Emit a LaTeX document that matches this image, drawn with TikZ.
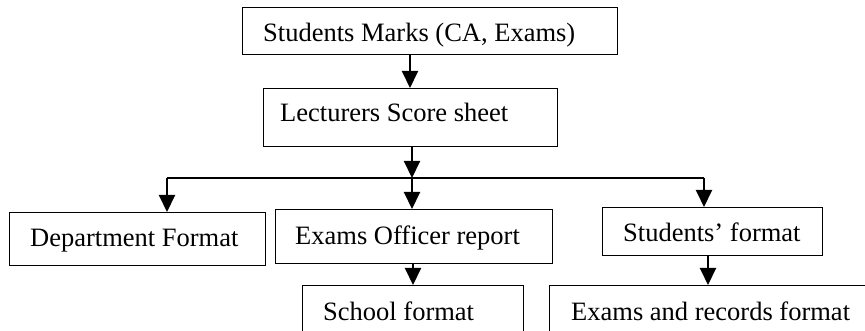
\documentclass[tikz,border=0pt]{standalone}
\usepackage{fontspec}
\setmainfont{Liberation Serif}
\usetikzlibrary{arrows.meta}
\begin{document}
\begin{tikzpicture}[x=1pt,y=-1pt,
  box/.style={draw=black, line width=1.3pt, rectangle, inner sep=0pt, anchor=north west},
  lbl/.style={inner sep=0pt, anchor=base west, font=\fontsize{26.5}{30}\selectfont},
  arr/.style={line width=2pt, -{Triangle[width=16pt,length=17pt]}},
  wire/.style={line width=2pt}]
\clip (0,0) rectangle (865,331);
\fill[white] (0,0) rectangle (865,331);

% boxes
\node[box, minimum width=375pt, minimum height=47pt] (marks) at (242,7) {};
\node[box, minimum width=294pt, minimum height=58pt] (sheet) at (263,88) {};
\node[box, minimum width=256pt, minimum height=53pt] (dept) at (9,212) {};
\node[box, minimum width=277pt, minimum height=54pt] (officer) at (275,209) {};
\node[box, minimum width=220pt, minimum height=48pt] (stud) at (602,207) {};
\node[box, minimum width=221pt, minimum height=60pt] (school) at (302,285) {};
\node[box, minimum width=331pt, minimum height=60pt] (records) at (549,285) {};

% labels
\node[lbl] (tmarks) at (263,42) {Students Marks (CA, Exams)};
\node[lbl] (tsheet) at (280,122) {Lecturers Score sheet};
\node[lbl] (tdept) at (30,247) {Department Format};
\node[lbl] (tofficer) at (295,245) {Exams Officer report};
\node[lbl] (tstud) at (623,242) {Students’ format};
\node[lbl] (tschool) at (323,320) {School format};
\node[lbl] (trecords) at (571,320) {Exams and records format};

% connector routing points
\coordinate (c1) at (410,0);
\coordinate (split) at (412,178);
\coordinate (jl) at (167,178);
\coordinate (jr) at (704,178);
\coordinate (c2) at (413,0);
\coordinate (c3) at (708,0);

\draw[arr] (marks.south -| c1) -- (sheet.north -| c1);
\draw[arr] (sheet.south -| split) -- (split);
\draw[wire] (jl) -- (jr);
\draw[arr] (jl) -- (dept.north -| jl);
\draw[arr] (split) -- (officer.north -| split);
\draw[arr] (jr) -- (stud.north -| jr);
\draw[arr] (officer.south -| c2) -- (school.north -| c2);
\draw[arr] (stud.south -| c3) -- (records.north -| c3);
\end{tikzpicture}
\end{document}
